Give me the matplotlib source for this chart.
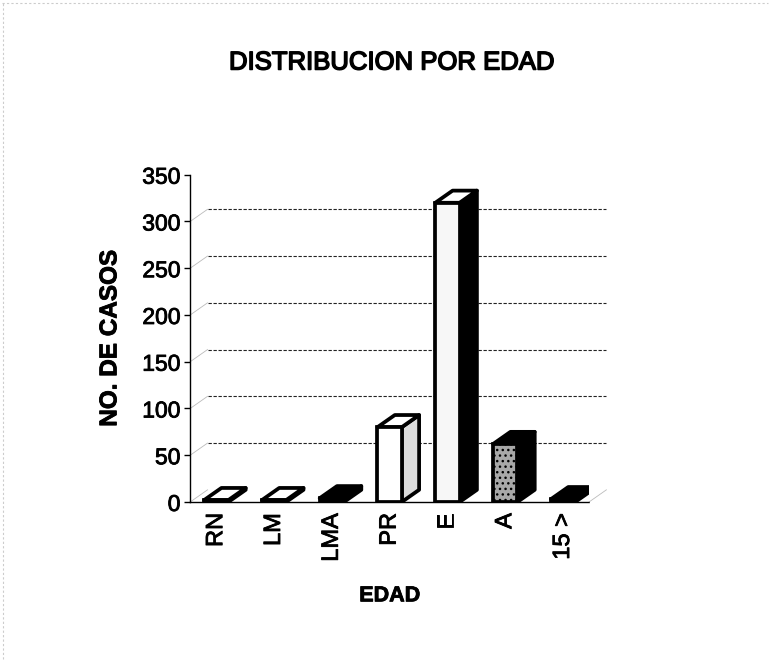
import matplotlib
matplotlib.use("Agg")
from matplotlib import pyplot as plt
from matplotlib import patheffects
from matplotlib.patches import Polygon

plt.rcParams['font.family'] = ['Liberation Sans', 'DejaVu Sans']

categories = ['RN', 'LM', 'LMA', 'PR', 'E', 'A', '15 >']
cases = [2, 2, 4, 80, 320, 62, 3]
yticks = [0, 50, 100, 150, 200, 250, 300, 350]

# (front, side, top) colours for each bar
face_styles = [
    ('white', 'white', 'white'),
    ('white', 'white', 'white'),
    ('black', 'black', 'black'),
    ('white', '#dcdcdc', 'white'),
    ('#f7f7f7', 'black', 'white'),
    ('#a8a8a8', 'black', 'black'),
    ('black', 'black', 'black'),
]

width = 0.42
dx, dy = 0.3, 13   # depth offset of the fake 3d
x0, x1 = -0.45, 6.45
thick = [patheffects.withStroke(linewidth=0.6, foreground='black')]

fig = plt.figure(figsize=(7.7, 6.72), dpi=100)
ax = fig.add_axes([0.247, 0.253, 0.518, 0.487])
ax.set_xlim(x0, x1)
ax.set_ylim(0, 350)

for s in ['top', 'right']:
    ax.spines[s].set_visible(False)
for s in ['left', 'bottom']:
    ax.spines[s].set_linestyle((0, (5, 1)))
    ax.spines[s].set_linewidth(1.0)

# back wall gridlines
for v in yticks[1:-1]:
    ax.plot([x0 + dx, x1 + dx], [v + dy, v + dy], color='#222222', lw=0.8,
            linestyle=(0, (3, 1.5)), clip_on=False, zorder=1)
# side wall / floor edges
for v in yticks[:-1]:
    ax.plot([x0, x0 + dx], [v, v + dy], color='#bbbbbb', lw=0.6, clip_on=False, zorder=1)
ax.plot([x1, x1 + dx], [0, dy], color='#bbbbbb', lw=0.6, clip_on=False, zorder=1)

for i, (v, (fc, sc, tc)) in enumerate(zip(cases, face_styles)):
    l, r = i - width / 2, i + width / 2
    side = Polygon([(r, 0), (r + dx, dy), (r + dx, v + dy), (r, v)],
                   facecolor=sc, edgecolor='black', lw=2.7, joinstyle='round', zorder=3)
    top = Polygon([(l, v), (l + dx, v + dy), (r + dx, v + dy), (r, v)],
                  facecolor=tc, edgecolor='black', lw=2.7, joinstyle='round', zorder=3)
    ax.add_patch(side)
    ax.add_patch(top)
    ax.bar(i, v, width=width, facecolor=fc, edgecolor='black', lw=2.7,
           hatch='...' if fc == '#a8a8a8' else None, zorder=4)

ax.set_yticks(yticks)
ax.set_yticklabels([str(t) for t in yticks], fontsize=16.5)
ax.tick_params(axis='y', direction='out', length=4, width=1, pad=3)
ax.set_xticks(range(len(categories)))
ax.set_xticklabels(categories, rotation=90, fontsize=17)
ax.tick_params(axis='x', length=0, pad=8)
for t in ax.get_xticklabels() + ax.get_yticklabels():
    t.set_path_effects(thick)

ax.set_ylabel('NO. DE CASOS', fontsize=17.5, fontweight='bold', labelpad=15,
              path_effects=thick)
ax.set_xlabel('EDAD', fontsize=15.5, fontweight='bold', labelpad=17,
              path_effects=thick)
fig.text(0.509, 0.907, 'DISTRIBUCION POR EDAD', fontsize=18.5, ha='center', va='center',
         path_effects=[patheffects.withStroke(linewidth=1.1, foreground='black')])

# faint scan border
fig.add_artist(plt.Line2D([0.003, 0.997], [0.996, 0.996], color='#cccccc', lw=0.8,
                          linestyle=(0, (2, 2))))
fig.add_artist(plt.Line2D([0.004, 0.004], [0.02, 0.996], color='#cccccc', lw=0.8,
                          linestyle=(0, (2, 2))))

fig.savefig('out.png', dpi=100)
